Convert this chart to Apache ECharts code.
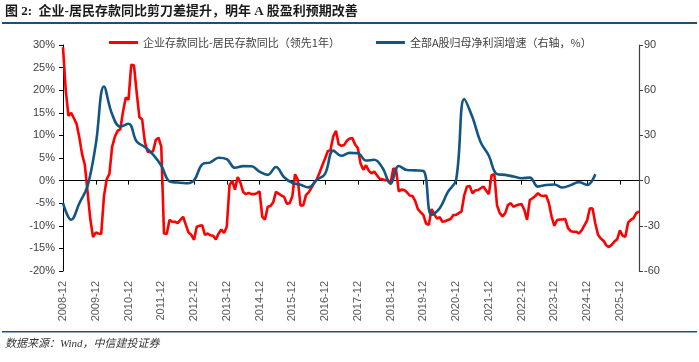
<!DOCTYPE html>
<html>
<head>
<meta charset="utf-8">
<script src="https://cdn.jsdelivr.net/npm/echarts@6/dist/echarts.min.js"></script>
<style>
html,body{margin:0;padding:0;background:#fff;}
#c{width:699px;height:362px;}
</style>
</head>
<body>
<div id="c"></div>
<script>
// ---- data ----
const startYear = 2008, startMonth = 12, monthCount = 212; // 2008-12 .. 2026-07
const categories = [];
for (let i = 0; i < monthCount; i++) {
  const t = (startYear * 12 + startMonth - 1) + i;
  const y = Math.floor(t / 12), m = t % 12 + 1;
  categories.push(y + '-' + (m < 10 ? '0' + m : m));
}

// 企业存款同比-居民存款同比（领先1年），monthly, %
const redValues = [
  29.5, 20, 14.3, 15.0, 13.8, 12.5, 9.5, 5.8, 3.5, -2.5, -8.5, -12.5,
  -11.5, -11.7, -11.8, -3.5, 0.3, 1.5, 7.5, 9.7, 11.0, 11.4, 15.3, 18.4,
  17.9, 25.6, 25.5, 19.4, 14.0, 13.5, 8.5, 6.4, 6.3, 6.5, 9.0, 9.5,
  7.5, -11.7, -11.8, -8.7, -9.1, -9.1, -9.4, -8.7, -8.0, -9.8, -11.5, -12.0,
  -13.1, -10.2, -10.0, -9.9, -12.0, -11.7, -12.1, -12.2, -13.0, -11.7, -10.8, -11.6,
  -10.2, -1.0, 0.0, -2.0, 0.8, -0.5, -2.5, -3.0, -2.7, -3.0, -3.0, -2.8,
  -2.4, -8.0, -8.6, -5.8, -5.6, -4.8, -2.5, -2.9, -3.3, -3.6, -5.1, -5.0,
  -3.5, 1.4, 0.2, -5.5, -5.5, -3.2, -2.6, -1.6, -0.5, 0.3, 1.8, 3.4,
  4.9, 6.5, 6.8, 9.8, 11.0, 8.0, 7.7, 7.9, 8.8, 9.3, 9.4, 8.0,
  7.2, 3.8, 2.4, 3.4, 2.2, 1.6, 2.0, 1.2, 0.4, 0.3, 0.1, 0.1,
  -0.5, 2.7, 2.5, -2.4, -2.0, -2.1, -2.6, -3.3, -3.4, -4.5, -6.3, -7.0,
  -7.6, -9.5, -9.8, -6.3, -7.4, -8.4, -8.1, -9.1, -9.0, -8.7, -8.5, -7.6,
  -7.6, -7.2, -6.8, -3.2, -1.3, -1.2, -2.8, -2.2, -2.1, -1.7, -1.3, -2.2,
  -3.0, 1.2, 1.4, -5.5, -7.2, -7.9, -7.2, -5.4, -5.0, -5.8, -5.5, -5.3,
  -5.2, -6.5, -8.7, -4.3, -3.9, -3.4, -2.8, -3.3, -3.4, -3.3, -5.0, -8.0,
  -10.0, -8.7, -8.6, -8.6, -8.5, -10.5, -11.2, -11.3, -11.3, -11.7, -11.0, -9.9,
  -8.8, -6.1, -6.2, -9.5, -12.0, -12.8, -13.3, -14.3, -14.7, -14.2, -13.5, -13.0,
  -11.0, -12.2, -12.4, -9.3, -8.7, -8.3, -7.2, -6.8
];

// 全部A股归母净利润增速（右轴，%），quarterly from 2008-12
const blueValues = [
  -15, -26, -15, -3.5, 24, 62.5, 44, 35.8, 37.7, 25.9, 22.3, 17.3,
  10, -0.5, -1.3, -1.8, 0.2, 10.8, 12.1, 15.2, 14.2, 8.5, 9.6, 9.5,
  6.0, 3.8, 9.0, 2.2, -1.5, -2.8, -4.5, 0.5, 4.5, 19.9, 16.5, 18.4,
  18.2, 13.3, 13.8, 8.5, -2, 9.7, 7.0, 6.8, 6.4, -22.8, -18.4, -7.5,
  0.5, 54.1, 42, 25.5, 16.5, 4.3, 3.8, 2.7, 1.6, 2.0, -4.0, -2.9,
  -2.6, -4.6, -3.0, -1.0, -2.9, 4.2
];
const blueDates = blueValues.map((v, i) => categories[i * 3]);

const leftTicks = { min: -20, max: 30, interval: 5 };
const rightTicks = { min: -60, max: 90, interval: 30 };

const redName = '企业存款同比-居民存款同比（领先1年）';
const blueName = '全部A股归母净利润增速（右轴，%）';

// ---- chart ----
const chart = echarts.init(document.getElementById('c'), null, { renderer: 'canvas' });
const axisFont = "'Liberation Sans Narrow','Liberation Sans',Arial,sans-serif";
const isDec = (idx, val) => String(val).endsWith('-12');

chart.setOption({
  animation: false,
  backgroundColor: '#ffffff',
  grid: { left: 63, right: 60, top: 45, bottom: 91, containLabel: false },
  legend: {
    top: 32, left: 104,
    itemGap: 36, itemWidth: 29, itemHeight: 3,
    icon: 'rect',
    textStyle: { fontSize: 11, color: '#404040', fontFamily: "'Noto Sans CJK SC',sans-serif" },
    data: [redName, blueName]
  },
  xAxis: [
    {
      type: 'category', data: categories, boundaryGap: false, position: 'bottom',
      axisLine: { show: false, onZero: false },
      axisTick: { show: false },
      axisLabel: {
        interval: isDec, rotate: 90, margin: 10,
        fontSize: 11, color: '#595959', fontFamily: axisFont
      },
      splitLine: { show: false }
    },
    {
      type: 'category', data: categories, boundaryGap: false, position: 'top',
      axisLine: { show: true, onZero: true, onZeroAxisIndex: 0, lineStyle: { color: '#000', width: 1 } },
      axisTick: { show: true, inside: true, interval: isDec, length: 4, lineStyle: { color: '#000' } },
      axisLabel: { show: false },
      splitLine: { show: false }
    }
  ],
  yAxis: [
    {
      type: 'value', position: 'left',
      min: leftTicks.min, max: leftTicks.max, interval: leftTicks.interval,
      axisLine: { show: true, lineStyle: { color: '#000', width: 1 } },
      axisTick: { show: true, length: 4, lineStyle: { color: '#000' } },
      axisLabel: { formatter: '{value}%', margin: 8, fontSize: 11, color: '#404040', fontFamily: axisFont },
      splitLine: { show: false }
    },
    {
      type: 'value', position: 'right',
      min: rightTicks.min, max: rightTicks.max, interval: rightTicks.interval,
      axisLine: { show: true, lineStyle: { color: '#404040', width: 1.2 } },
      axisTick: { show: true, length: 4, lineStyle: { color: '#404040' } },
      axisLabel: { margin: 5, fontSize: 11, color: '#404040', fontFamily: axisFont },
      splitLine: { show: false }
    }
  ],
  series: [
    {
      name: redName, type: 'line', xAxisIndex: 0, yAxisIndex: 0,
      data: redValues, showSymbol: false, symbol: 'none',
      lineStyle: { color: '#ff0000', width: 2.6 }, itemStyle: { color: '#ff0000' },
      z: 3
    },
    {
      name: blueName, type: 'line', xAxisIndex: 0, yAxisIndex: 1,
      data: blueDates.map((d, i) => [d, blueValues[i]]),
      showSymbol: false, symbol: 'none', smooth: 0.4,
      lineStyle: { color: '#135683', width: 2.6 }, itemStyle: { color: '#135683' },
      z: 4
    }
  ],
  graphic: [
    {
      type: 'text', left: 5, top: 5,
      style: {
        text: '图 2:  企业-居民存款同比剪刀差提升，明年 A 股盈利预期改善',
        font: "bold 13px 'Liberation Serif','Noto Sans CJK SC',serif", fill: '#1a1a1a'
      }
    },
    { type: 'rect', shape: { x: 2, y: 22, width: 695, height: 2 }, style: { fill: '#1f4e79' } },
    { type: 'rect', shape: { x: 2, y: 331, width: 695, height: 1.5 }, style: { fill: '#1f4e79' } },
    {
      type: 'text', left: 5, top: 339,
      style: {
        text: '数据来源：Wind，中信建投证券',
        font: "italic 11px 'Liberation Serif','Noto Sans CJK SC',serif", fill: '#333'
      }
    }
  ]
});
</script>
</body>
</html>
